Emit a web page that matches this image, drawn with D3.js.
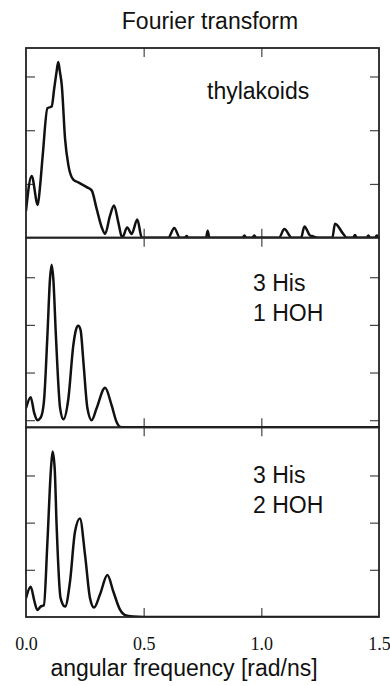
<!DOCTYPE html>
<html lang='en'>
<head>
  <meta charset='UTF-8'>
  <title>Fourier transform</title>
  <script src='https://cdn.jsdelivr.net/npm/d3@7/dist/d3.min.js'></script>
  <style>
    body { margin: 0; background: #fff; }
    svg { display: block; }
    .lbl { font-family: 'Liberation Sans', Arial, Helvetica, sans-serif; fill: #111; }
  </style>
</head>
<body>
  <svg width='390' height='686'></svg>

  <script>
    // [angular frequency, amplitude]
    var thylakoids = [
      [0, 0.50], [0.024, 1.15], [0.050, 0.61], [0.060, 0.97], [0.071, 1.53], [0.091, 2.41],
      [0.109, 2.44], [0.120, 2.78], [0.130, 3.09], [0.137, 3.27], [0.144, 3.09], [0.152, 2.84],
      [0.166, 1.84], [0.180, 1.35], [0.201, 1.08], [0.222, 1.03], [0.258, 0.94], [0.279, 0.88],
      [0.300, 0.54], [0.322, 0.19], [0.336, 0.07], [0.357, 0.41], [0.374, 0.60], [0.392, 0.29],
      [0.409, 0.0], [0.430, 0.19], [0.449, 0.07], [0.473, 0.34], [0.492, 0.0], [0.605, 0],
      [0.630, 0.18], [0.654, 0], [0.675, 0], [0.683, 0.03], [0.690, 0], [0.765, 0], [0.772, 0.13],
      [0.779, 0], [0.920, 0], [0.928, 0.04], [0.936, 0], [0.962, 0], [0.970, 0.04], [0.978, 0],
      [1.075, 0], [1.098, 0.16], [1.129, 0], [1.169, 0], [1.183, 0.21], [1.207, 0.04], [1.215, 0.03],
      [1.242, 0], [1.302, 0], [1.313, 0.26], [1.348, 0.07], [1.363, 0], [1.390, 0], [1.398, 0.05],
      [1.405, 0], [1.448, 0], [1.455, 0.04], [1.462, 0], [1.484, 0], [1.490, 0.04], [1.5, 0]
    ];
    var his3hoh1 = [
      [0, 0.25], [0.020, 0.48], [0.035, 0.15], [0.048, 0.0], [0.062, 0.05], [0.076, 0.38],
      [0.091, 1.78], [0.102, 2.97], [0.109, 3.26], [0.116, 2.97], [0.127, 1.78], [0.145, 0.25],
      [0.159, 0.02], [0.180, 0.45], [0.201, 1.57], [0.212, 1.89], [0.222, 1.98], [0.232, 1.89],
      [0.244, 1.22], [0.261, 0.25], [0.279, 0.0], [0.300, 0.25], [0.336, 0.68], [0.364, 0.31],
      [0.385, -0.04], [0.400, -0.14], [0.42, -0.15], [1.5, -0.15]
    ];
    var his3hoh2 = [
      [0, 0.40], [0.020, 0.64], [0.035, 0.35], [0.048, 0.15], [0.062, 0.22], [0.076, 0.25],
      [0.091, 1.59], [0.106, 3.14], [0.113, 3.51], [0.122, 3.14], [0.130, 1.95], [0.147, 0.40],
      [0.166, 0.22], [0.187, 0.75], [0.208, 1.80], [0.229, 2.09], [0.251, 1.31], [0.272, 0.40],
      [0.289, 0.20], [0.314, 0.47], [0.346, 0.89], [0.371, 0.54], [0.400, 0.15], [0.421, 0.04],
      [0.456, 0.01], [0.5, 0], [1.5, 0]
    ];
    var xTicks = [0.5, 1.0];
    var xLabels = [0, 0.5, 1.0, 1.5];

    var panels = [
      {data: thylakoids, domain: [0, 3.53], ticks: [1, 2, 3], label: ['thylakoids'], lx: 207, ly: 99},
      {data: his3hoh1, domain: [-0.15, 3.83], ticks: [0, 1, 2, 3], label: ['3 His', '1 HOH'], lx: 253, ly: 291},
      {data: his3hoh2, domain: [0, 4.02], ticks: [1, 2, 3], label: ['3 His', '2 HOH'], lx: 253, ly: 483}
    ];

    var svg = d3.select('svg'),
      plotLeft = 26, plotRight = 379, plotTop = 48, plotBottom = 617,
      width = plotRight - plotLeft,
      ph = (plotBottom - plotTop) / panels.length;

    var x = d3.scaleLinear().domain([0, 1.5]).range([0, width]);

    svg.append('text').attr('class', 'lbl')
      .attr('x', 210).attr('y', 29).attr('text-anchor', 'middle')
      .attr('font-size', 23).text('Fourier transform');

    panels.forEach(function(p, i) {
      var g = svg.append('g').attr('transform', 'translate(' + plotLeft + ',' + (plotTop + i * ph) + ')');
      var y = d3.scaleLinear().domain(p.domain).range([ph, 0]);

      g.append('clipPath').attr('id', 'clip' + i)
        .append('rect').attr('width', width).attr('height', ph);

      var tick = function(ax) {
        ax.select('.domain').remove();
        ax.selectAll('text').remove();
        ax.selectAll('line').attr('stroke', '#444').attr('stroke-width', 1.2);
      };
      g.append('g').call(d3.axisLeft(y).tickValues(p.ticks).tickSize(-9)).call(tick);
      g.append('g').attr('transform', 'translate(' + width + ',0)')
        .call(d3.axisRight(y).tickValues(p.ticks).tickSize(-9)).call(tick);
      g.append('g').call(d3.axisTop(x).tickValues(xTicks).tickSize(-9)).call(tick);
      g.append('g').attr('transform', 'translate(0,' + ph + ')')
        .call(d3.axisBottom(x).tickValues(xTicks).tickSize(-9)).call(tick);

      var line = d3.line()
        .x(d => x(d[0]))
        .y(d => y(d[1]))
        .curve(d3.curveMonotoneX);

      g.append('path')
        .datum(p.data)
        .attr('clip-path', 'url(#clip' + i + ')')
        .attr('fill', 'none')
        .attr('stroke', '#111')
        .attr('stroke-width', 2.5)
        .attr('stroke-linejoin', 'round')
        .attr('d', line);

      g.append('rect')
        .attr('width', width).attr('height', ph)
        .attr('fill', 'none').attr('stroke', '#222').attr('stroke-width', 1.8);

      p.label.forEach(function(t, k) {
        svg.append('text').attr('class', 'lbl')
          .attr('x', p.lx).attr('y', p.ly + k * 29.5)
          .attr('font-size', 23).text(t);
      });
    });

    // tick labels under the last panel
    var xa = svg.append('g').attr('transform', 'translate(' + plotLeft + ',' + plotBottom + ')')
      .call(d3.axisBottom(x).tickValues(xLabels).tickSize(0).tickPadding(20).tickFormat(d3.format('.1f')));
    xa.select('.domain').remove();
    xa.selectAll('text')
      .attr('font-family', "'Liberation Serif', 'Times New Roman', serif")
      .attr('font-size', 18).attr('fill', '#111');

    svg.append('text').attr('class', 'lbl')
      .attr('x', 184).attr('y', 676).attr('text-anchor', 'middle')
      .attr('font-size', 23).text('angular frequency [rad/ns]');
  </script>
</body>
</html>
